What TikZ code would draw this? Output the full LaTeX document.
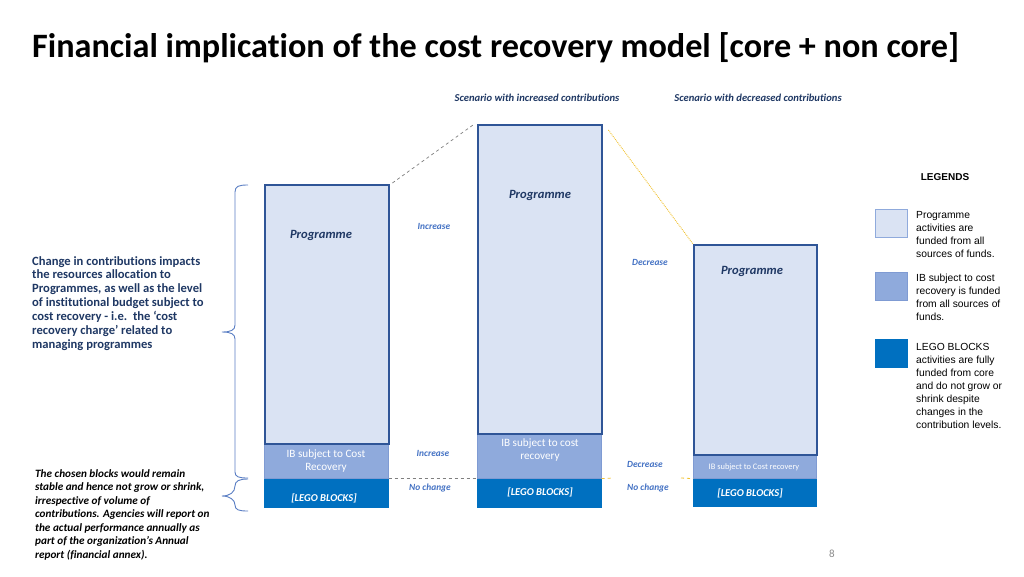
\documentclass[tikz,border=0pt]{standalone}
\usepackage{fontspec}
\setmainfont{Carlito}[Ligatures=NoCommon]
\newfontfamily\legfont{Liberation Sans}
\definecolor{progfill}{HTML}{DAE3F3}
\definecolor{progdraw}{HTML}{2F5597}
\definecolor{ibfill}{HTML}{8FAADC}
\definecolor{ibdraw}{HTML}{7F9BD3}
\definecolor{legofill}{HTML}{0070C0}
\definecolor{navy}{HTML}{1F3864}
\definecolor{midblue}{HTML}{4472C4}
\definecolor{bracecol}{HTML}{5B7FC4}
\definecolor{dashgrey}{HTML}{7F7F7F}
\definecolor{dashyellow}{HTML}{F2C230}
\begin{document}
\begin{tikzpicture}[x=1pt,y=-1pt,
  progbox/.style={draw=progdraw,line width=2.4pt,fill=progfill,anchor=north west,inner sep=0pt},
  ibbox/.style={draw=ibdraw,line width=0.6pt,fill=ibfill,anchor=north west,inner sep=0pt},
  legobox/.style={draw=legofill,line width=0.6pt,fill=legofill,anchor=north west,inner sep=0pt},
  proglabel/.style={text=navy,font=\fontsize{12.6}{14}\selectfont\bfseries\itshape},
  iblabel/.style={text=white,align=center,font=\fontsize{11.2}{13.5}\selectfont},
  legolabel/.style={text=white,font=\fontsize{10.5}{13}\selectfont\bfseries\itshape},
  changelabel/.style={text=midblue,font=\fontsize{9.4}{10}\selectfont\bfseries\itshape},
  scenlabel/.style={text=navy,font=\fontsize{10.6}{12}\selectfont\bfseries\itshape},
  legtext/.style={anchor=north west,align=left,inner sep=0pt,font=\legfont\fontsize{10.3}{12.95}\selectfont},
  legsq/.style={anchor=north west,inner sep=0pt,minimum width=32pt,minimum height=28pt,line width=0.8pt},
  bracestyle/.style={draw=bracecol,line width=0.9pt}]
\useasboundingbox (0,0) rectangle (1024,576);
\fill[white] (0,0) rectangle (1024,576);

% title
\node[anchor=west,inner sep=0pt,font=\fontsize{34.2}{40}\selectfont\bfseries] (title) at (32,48)
  {Financial implication of the cost recovery model [core + non core]};

% scenario headings
\node[scenlabel] (scen1) at (537,98) {Scenario with increased contributions};
\node[scenlabel] (scen2) at (758,98) {Scenario with decreased contributions};

% bars: scenario 1
\node[legobox,minimum width=124pt,minimum height=29pt] (lego1) at (264,478) {};
\node[ibbox,minimum width=124pt,minimum height=35pt] (ib1) at (264,443) {};
\node[progbox,minimum width=124pt,minimum height=259pt] (prog1) at (264,184) {};
% bars: scenario 2
\node[legobox,minimum width=124pt,minimum height=29pt] (lego2) at (477,478) {};
\node[ibbox,minimum width=124pt,minimum height=45pt] (ib2) at (477,433) {};
\node[progbox,minimum width=124pt,minimum height=309pt] (prog2) at (477,124) {};
% bars: scenario 3
\node[legobox,minimum width=123pt,minimum height=28pt] (lego3) at (693,478) {};
\node[ibbox,minimum width=123pt,minimum height=24pt] (ib3) at (693,454) {};
\node[progbox,minimum width=123pt,minimum height=210pt] (prog3) at (693,244) {};

% labels in bars
\node[proglabel] (pl1) at (321,235) {Programme};
\node[proglabel] (pl2) at (540,195) {Programme};
\node[proglabel] (pl3) at (752,271) {Programme};
\node[iblabel] (il1) at (326,461) {IB subject to Cost\\Recovery};
\node[iblabel] (il2) at (540,450) {IB subject to cost\\recovery};
\node[iblabel,font=\fontsize{8.4}{9}\selectfont] (il3) at (754,467) {IB subject to Cost recovery};
\node[legolabel] (ll1) at (324,498) {[LEGO BLOCKS]};
\node[legolabel] (ll2) at (540,492) {[LEGO BLOCKS]};
\node[legolabel] (ll3) at (750,493) {[LEGO BLOCKS]};

% change labels
\node[changelabel] (inc1) at (434,226) {Increase};
\node[changelabel] (dec1) at (650,262) {Decrease};
\node[changelabel] (inc2) at (433,453) {Increase};
\node[changelabel] (nc1) at (430,488) {No change};
\node[changelabel] (dec2) at (645,464) {Decrease};
\node[changelabel] (nc2) at (648,488) {No change};

% connectors
\draw[dashgrey,dashed,line width=0.7pt] ([shift={(2,-1)}]prog1.north east) -- ([shift={(-4,1)}]prog2.north west);
\draw[dashyellow,densely dotted,line width=0.9pt] ([shift={(5,6)}]prog2.north east) -- (prog3.north west);
\draw[dashgrey,dashed,line width=0.6pt] (ib1.south east) -- (ib2.south west);
\coordinate (y1) at (613,478);
\coordinate (y2) at (681,478);
\draw[dashyellow,dashed,line width=0.8pt] (ib2.south east) -- (y1);
\draw[dashyellow,dashed,line width=0.8pt] (y2) -- (ib3.south west);

% braces
\draw[bracestyle] (248,185) .. controls (239,185) and (235,186) .. (235,192) -- (235,325)
  .. controls (235,330) and (231,332) .. (222,332)
  .. controls (231,332) and (235,334) .. (235,339) -- (235,472)
  .. controls (235,477) and (239,478) .. (248,478);
\draw[bracestyle] (248,479) .. controls (239,479) and (235,481) .. (235,486)
  .. controls (235,492) and (230,496) .. (222,496)
  .. controls (230,496) and (235,500) .. (235,505)
  .. controls (235,510) and (239,511) .. (248,511);

% left texts
\node[anchor=north west,align=left,inner sep=0pt,text=navy,font=\fontsize{12.6}{13.85}\selectfont\bfseries] (lefttext) at (32,256)
  {Change in contributions impacts\\the resources allocation to\\Programmes, as well as the level\\of institutional budget subject to\\cost recovery - i.e.\ \ the ‘cost\\recovery charge’ related to\\managing programmes};
\node[anchor=north west,align=left,inner sep=0pt,font=\fontsize{11.2}{13.5}\selectfont\bfseries\itshape] (bottomtext) at (35,469)
  {The chosen blocks would remain\\stable and hence not grow or shrink,\\irrespective of volume of\\contributions. Agencies will report on\\the actual performance annually as\\part of the organization’s Annual\\report (financial annex).};

% legend
\node[font=\legfont\fontsize{10}{12}\selectfont\bfseries] (legtitle) at (945,177) {LEGENDS};
\node[legsq,draw=ibfill,fill=progfill] (lsq1) at (875,209) {};
\node[legsq,draw=ibdraw,fill=ibfill] (lsq2) at (875,272) {};
\node[legsq,draw=legofill,fill=legofill] (lsq3) at (875,339) {};
\node[legtext] (lt1) at (916,211) {Programme\\activities are\\funded from all\\sources of funds.};
\node[legtext] (lt2) at (916,273.5) {IB subject to cost\\recovery is funded\\from all sources of\\funds.};
\node[legtext] (lt3) at (916,343) {LEGO BLOCKS\\activities are fully\\funded from core\\and do not grow or\\shrink despite\\changes in the\\contribution levels.};

% page number
\node[text=black!45,font=\fontsize{11}{13}\selectfont] (pagenum) at (832,554) {8};
\end{tikzpicture}
\end{document}
